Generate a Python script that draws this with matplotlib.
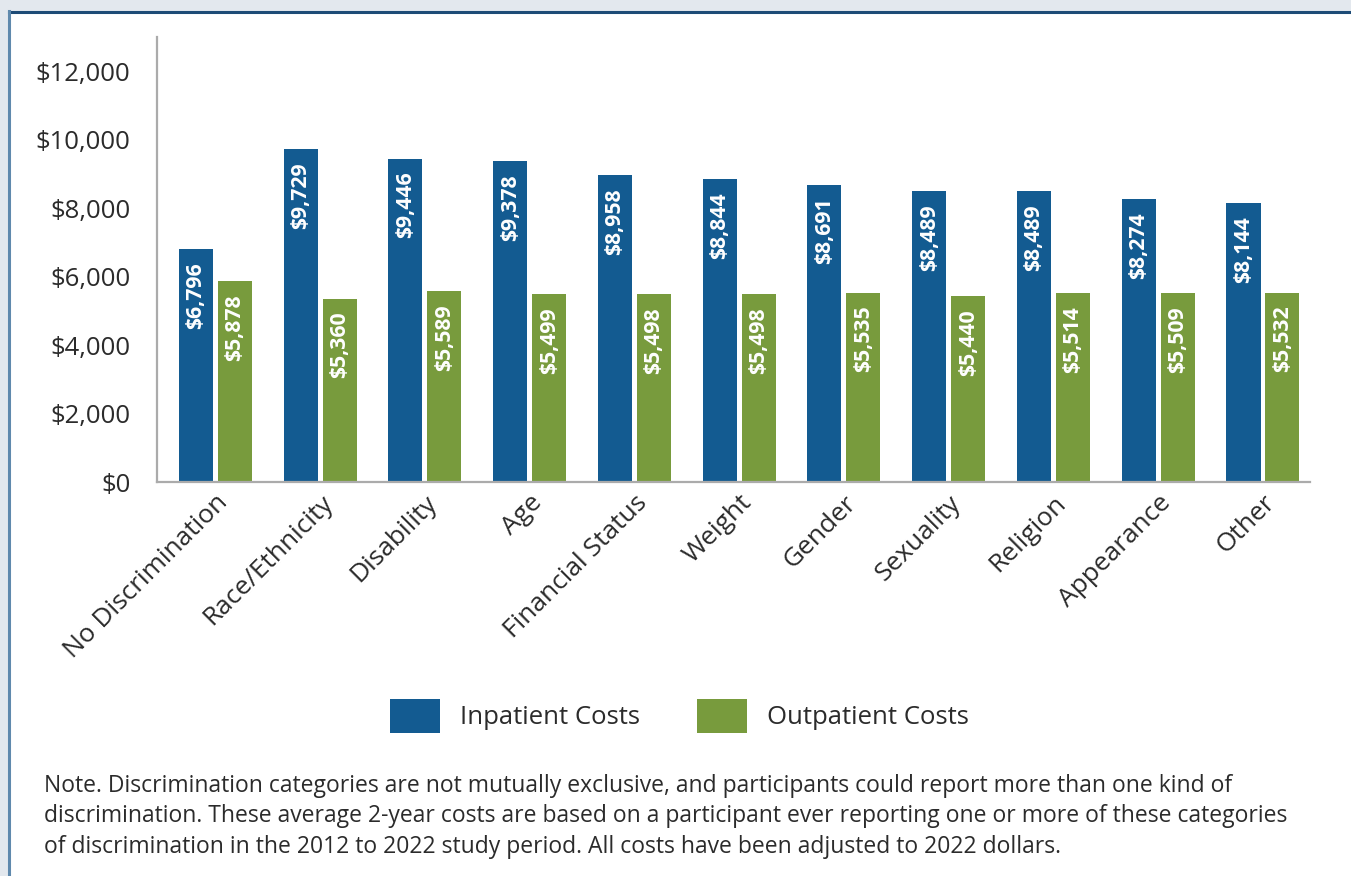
import matplotlib
matplotlib.use("Agg")
import matplotlib.pyplot as plt
import numpy as np
from matplotlib.patches import Patch, Rectangle
from matplotlib.lines import Line2D
from matplotlib.ticker import FuncFormatter

plt.rcParams['font.family'] = ['Open Sans', 'DejaVu Sans']

categories = ["No Discrimination", "Race/Ethnicity", "Disability", "Age",
              "Financial Status", "Weight", "Gender", "Sexuality", "Religion",
              "Appearance", "Other"]
inpatient = [6796, 9729, 9446, 9378, 8958, 8844, 8691, 8489, 8489, 8274, 8144]
outpatient = [5878, 5360, 5589, 5499, 5498, 5498, 5535, 5440, 5514, 5509, 5532]
series_names = ["Inpatient Costs", "Outpatient Costs"]
y_ticks = [0, 2000, 4000, 6000, 8000, 10000, 12000]

BLUE = "#135B91"
GREEN = "#789B3D"
TEXT = "#2b2b2b"

W, H = 1351, 876
fig = plt.figure(figsize=(W / 100, H / 100), dpi=100)
fig.patch.set_facecolor("#e3e8ee")

# white panel with its border
panel = Rectangle((9 / W, 0), 1 - 9 / W, 1 - 12 / H, transform=fig.transFigure,
                  facecolor="white", edgecolor="none", zorder=0)
fig.add_artist(panel)
fig.add_artist(Line2D([9 / W, 1], [1 - 11.5 / H, 1 - 11.5 / H], transform=fig.transFigure,
                      color="#1d4b76", lw=2.2, zorder=1))
fig.add_artist(Line2D([8.5 / W, 8.5 / W], [0, 1 - 11 / H], transform=fig.transFigure,
                      color="#5f89ad", lw=2.2, zorder=1))

ax = fig.add_axes([157 / W, 1 - 482 / H, (1310 - 157) / W, (482 - 37) / H])
ax.set_facecolor("none")

x = np.arange(len(categories))
bw = 0.325
off = 0.186
b1 = ax.bar(x - off, inpatient, bw, color=BLUE, zorder=2)
b2 = ax.bar(x + off, outpatient, bw, color=GREEN, zorder=2)

for bars, vals in ((b1, inpatient), (b2, outpatient)):
    for r, v in zip(bars, vals):
        ax.annotate(f"${v:,}", (r.get_x() + r.get_width() / 2, v),
                    xytext=(0, -9.5), textcoords="offset points",
                    rotation=90, ha="center", va="top", color="white",
                    fontsize=15.3, fontweight="bold", zorder=3)

ax.set_xlim(-0.558, 10.449)
ax.set_ylim(0, 13000)
ax.set_yticks(y_ticks)
ax.yaxis.set_major_formatter(FuncFormatter(lambda v, p: f"${int(v):,}"))
ax.tick_params(axis="y", length=0, pad=19, labelsize=18.5, labelcolor=TEXT)
ax.tick_params(axis="x", length=0, pad=6, labelsize=18.9, labelcolor=TEXT)
ax.set_xticks(x)
ax.set_xticklabels(categories, rotation=45, ha="right", rotation_mode="anchor")

for s in ("top", "right"):
    ax.spines[s].set_visible(False)
for s in ("left", "bottom"):
    ax.spines[s].set_color("#ababab")
    ax.spines[s].set_linewidth(1.6)

fs_leg = 18.5
px = fs_leg * 100 / 72
handles = [Patch(facecolor=BLUE), Patch(facecolor=GREEN)]
fig.legend(handles, series_names, loc="center", bbox_to_anchor=(679 / W, 1 - 716 / H),
           ncol=2, frameon=False, fontsize=fs_leg, handlelength=50 / px, handleheight=42 / px,
           handletextpad=20 / px, columnspacing=57 / px, labelcolor=TEXT)

note = ("Note. Discrimination categories are not mutually exclusive, and participants could report more than one kind of\n"
        "discrimination. These average 2-year costs are based on a participant ever reporting one or more of these categories\n"
        "of discrimination in the 2012 to 2022 study period. All costs have been adjusted to 2022 dollars.")
fig.text(44 / W, 1 - 774 / H, note, ha="left", va="top", fontsize=16.5, color=TEXT,
         linespacing=1.35)

fig.savefig("out.png", dpi=100, facecolor=fig.get_facecolor())
